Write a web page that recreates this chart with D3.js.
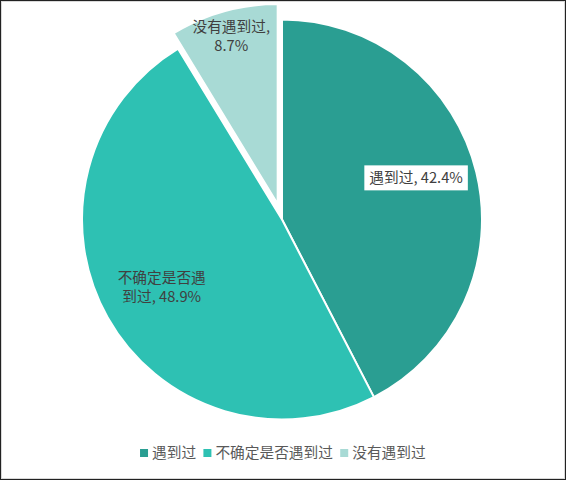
<!DOCTYPE html>
<html>
<head>
<meta charset="utf-8">
<title>Pie chart</title>
<script src="https://d3js.org/d3.v7.min.js"></script>
<style>
  html, body { margin: 0; padding: 0; background: #fff; }
  svg { display: block; font-family: "Noto Sans CJK SC", "Microsoft YaHei", sans-serif; }
</style>
</head>
<body>
<script>
// data
const categories = ["遇到过", "不确定是否遇到过", "没有遇到过"]
const values = [42.4, 48.9, 8.7]
const labelLines = [["遇到过, 42.4%"], ["不确定是否遇", "到过, 48.9%"], ["没有遇到过,", "8.7%"]]
const colors = ["#2a9e92", "#2ec1b3", "#a8dad5"]

const w = 566, h = 480
const cx = 282, cy = 219.5, r = 200
const explode = [0, 0, 16]
const labelR = [0.69, 0.69, 0.86]
const labelShift = [-9, 0, -2]

const svg = d3.select("body").append("svg")
  .attr("width", w)
  .attr("height", h)

// frame
svg.append("rect").attr("x", 0.5).attr("y", 0.5).attr("width", w - 1).attr("height", h - 1)
  .attr("fill", "#fff").attr("stroke", "#222")
svg.append("rect").attr("x", 1.5).attr("y", 1.5).attr("width", w - 3).attr("height", h - 3)
  .attr("fill", "none").attr("stroke", "#d9d9d9")

const pie = d3.pie().sort(null).value(d => d)
const arcs = pie(values)
const arc = d3.arc().innerRadius(0).outerRadius(r)

const g = svg.append("g").attr("transform", `translate(${cx},${cy})`)

function offset(d, dist) {
  const a = (d.startAngle + d.endAngle) / 2
  return [Math.sin(a) * dist, -Math.cos(a) * dist]
}

const slice = g.selectAll("g.slice")
  .data(arcs)
  .enter()
  .append("g")
  .attr("class", "slice")
  .attr("transform", (d, i) => {
    const o = offset(d, explode[i])
    return `translate(${o[0]},${o[1]})`
  })

slice.append("path")
  .attr("d", arc)
  .attr("fill", (d, i) => colors[i])
  .attr("stroke", "#fff")
  .attr("stroke-width", 2)
  .attr("stroke-linejoin", "round")

// labels
const fs = 14.7
slice.each(function(d, i) {
  const o = offset(d, labelR[i] * r)
  const lg = d3.select(this).append("g").attr("transform", `translate(${o[0]},${o[1] + labelShift[i]})`)
  const lines = labelLines[i]
  const lh = 19.5
  const t = lg.append("text")
    .attr("text-anchor", "middle")
    .attr("fill", "#404040")
    .attr("font-size", fs)
  lines.forEach((s, k) => {
    t.append("tspan")
      .attr("x", 0)
      .attr("y", (k - (lines.length - 1) / 2) * lh)
      .attr("dy", "0.35em")
      .text(s)
  })
  if (i === 0) {
    const bb = t.node().getBBox()
    lg.insert("rect", "text")
      .attr("x", bb.x - 5)
      .attr("y", -12.5)
      .attr("width", bb.width + 10)
      .attr("height", 25)
      .attr("fill", "#fff")
  }
})

// legend
const legend = svg.append("g").attr("transform", "translate(0,453)")
const items = legend.selectAll("g").data(categories).enter().append("g")
items.append("rect")
  .attr("y", -4)
  .attr("width", 8)
  .attr("height", 8)
  .attr("fill", (d, i) => colors[i])
items.append("text")
  .attr("x", 12)
  .attr("dy", "0.35em")
  .attr("font-size", fs)
  .attr("fill", "#595959")
  .text(d => d)

let widths = []
items.each(function() { widths.push(this.getBBox().width) })
const gap = 7
const total = d3.sum(widths) + gap * (widths.length - 1)
let x = (w - total) / 2
items.attr("transform", (d, i) => {
  const tx = x
  x += widths[i] + gap
  return `translate(${tx},0)`
})
</script>
</body>
</html>
